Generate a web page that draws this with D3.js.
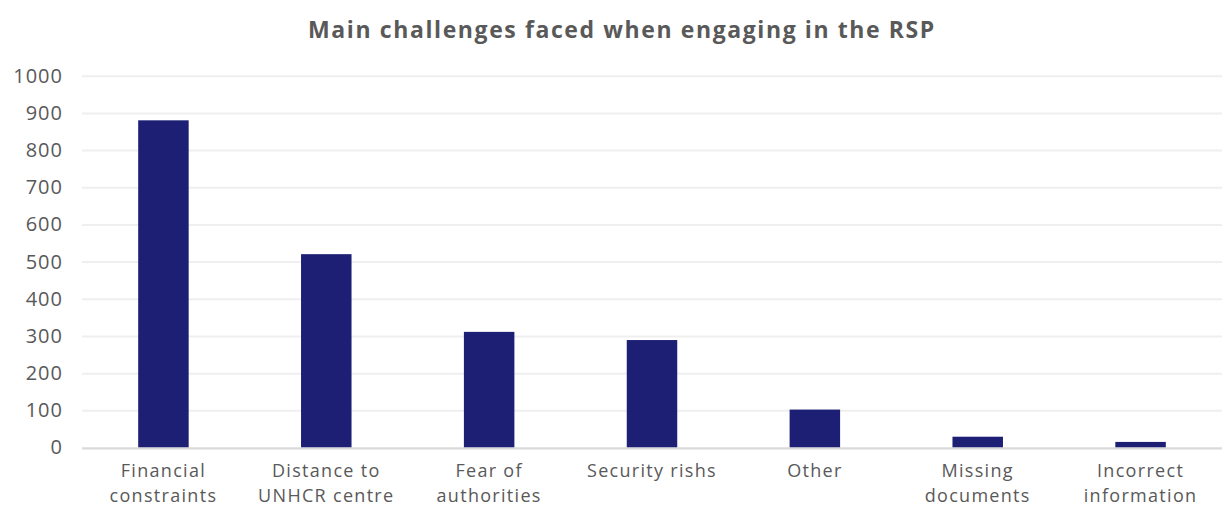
<!DOCTYPE html>
<html><head><meta charset="utf-8">
<script src="https://cdn.jsdelivr.net/npm/d3@7"></script>
<style>body{margin:0;background:#fff}svg{display:block}</style>
</head><body><svg id="c" width="1224" height="507"></svg>
<script>
const title = "Main challenges faced when engaging in the RSP";
const categories = [["Financial","constraints"],["Distance to","UNHCR centre"],["Fear of","authorities"],["Security rishs"],["Other"],["Missing","documents"],["Incorrect","information"]];
const values = [880, 520, 311, 289, 102, 29, 15];
const yTicks = [0,100,200,300,400,500,600,700,800,900,1000];

const svg = d3.select("#c");
const m = {left:82, right:1222, top:75.7, bottom:447.5};
const font = "'Open Sans', sans-serif";
const x = d3.scaleBand().domain(d3.range(values.length)).range([m.left, m.right]).paddingInner(0.69).paddingOuter(0.345);
const y = d3.scaleLinear().domain([0,1000]).range([m.bottom, m.top]);

svg.append("text").attr("x",622).attr("y",38).attr("text-anchor","middle")
  .attr("font-family",font).attr("font-weight","bold").attr("font-size",23).attr("letter-spacing",1.6).attr("fill","#595959").text(title);

const ya = svg.append("g").attr("transform",`translate(${m.left},0)`)
  .call(d3.axisLeft(y).tickValues(yTicks).tickFormat(d3.format("d")).tickSize(-(m.right-m.left)).tickPadding(19));
ya.select(".domain").remove();
ya.selectAll(".tick line").attr("stroke","#efefef").attr("stroke-width",2);
ya.selectAll(".tick text").attr("font-family",font).attr("font-size",20).attr("letter-spacing",1).attr("fill","#595959");

svg.selectAll("rect.bar").data(values).join("rect").attr("class","bar")
  .attr("x",(d,i)=>x(i)).attr("width",x.bandwidth())
  .attr("y",d=>y(d)).attr("height",d=>y(0)-y(d)).attr("fill","#1c1f73");

svg.append("line").attr("x1",m.left).attr("x2",m.right).attr("y1",y(0)+1).attr("y2",y(0)+1)
  .attr("stroke","#d9d9d9").attr("stroke-width",2);

const xa = svg.append("g");
categories.forEach((lines,i)=>{
  const t = xa.append("text").attr("text-anchor","middle").attr("font-family",font).attr("font-size",18).attr("letter-spacing",1.3).attr("fill","#595959");
  lines.forEach((l,j)=>t.append("tspan").attr("x",x(i)+x.bandwidth()/2).attr("y",477+j*25).text(l));
});
</script></body></html>
